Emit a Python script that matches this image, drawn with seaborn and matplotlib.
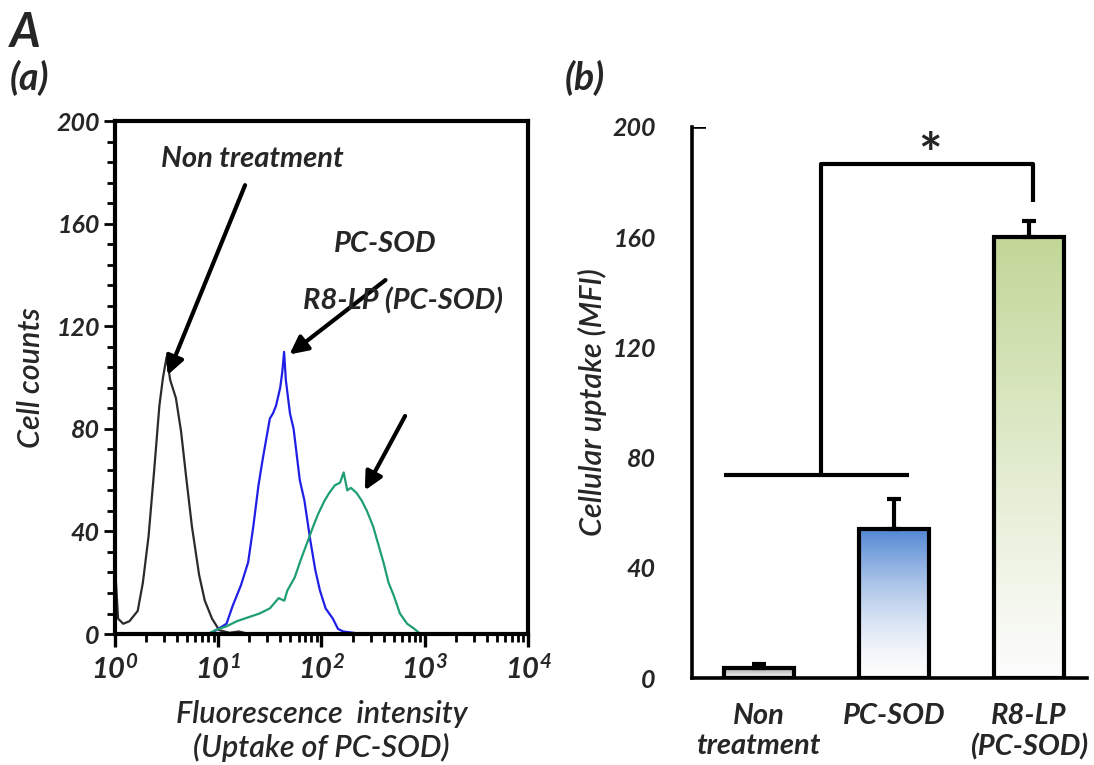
import numpy as np
import pandas as pd
import matplotlib
matplotlib.use("Agg")
import matplotlib.pyplot as plt
import seaborn as sns
from matplotlib.ticker import NullFormatter
from matplotlib.colors import to_rgb

# ---------------- data ----------------
# panel (a): flow-cytometry histograms, x = log10(fluorescence intensity)
non_log = [0.0, 0.01, 0.03, 0.08, 0.14, 0.18, 0.22, 0.27, 0.325, 0.38, 0.43, 0.465,
           0.50, 0.535, 0.59, 0.64, 0.69, 0.745, 0.815, 0.87, 0.94, 1.01, 1.11, 1.2, 1.3, 1.5]
non_count = [3, 20, 6, 4, 5, 7, 9, 20, 38, 64, 89, 100,
             108, 99, 92, 79, 61, 42, 23, 13, 6, 1.5, 0.5, 1, 0, 0]

pcsod_log = [0.0, 0.9, 0.96, 1.08, 1.14, 1.22, 1.29, 1.34, 1.39, 1.43, 1.50, 1.53, 1.56,
             1.60, 1.62, 1.638, 1.655, 1.695, 1.73, 1.79, 1.835, 1.89, 1.94, 1.985, 2.04,
             2.11, 2.16, 2.21, 2.4, 4.0]
pcsod_count = [0, 0, 1, 4, 11, 19, 28, 42, 58, 68, 84, 86, 89,
               96, 102, 110, 99, 86, 80, 60, 52, 37, 25, 17, 10,
               6, 2, 1, 0, 0]

r8_log = [0.0, 0.9, 0.97, 1.08, 1.18, 1.29, 1.40, 1.50, 1.585, 1.64, 1.67, 1.74, 1.80,
          1.865, 1.92, 1.97, 2.03, 2.075, 2.13, 2.18, 2.215, 2.25, 2.285, 2.34, 2.39, 2.44,
          2.50, 2.55, 2.60, 2.65, 2.70, 2.76, 2.83, 2.90, 2.95, 3.1, 4.0]
r8_count = [0, 0, 1.5, 3, 5, 6.5, 8, 10, 14, 13, 17, 22, 29,
            36, 42, 47, 52, 55, 58, 59, 63, 56, 57, 55, 52, 48,
            42, 35, 28, 20, 15, 8, 4, 2, 0.3, 0, 0]

x_ticks = [1, 10, 100, 1000, 10000]
x_tick_labels = ["$10^{0}$", "$10^{1}$", "$10^{2}$", "$10^{3}$", "$10^{4}$"]
y_ticks = [0, 40, 80, 120, 160, 200]
y_tick_labels = ["0", "40", "80", "120", "160", "200"]

# panel (b): mean fluorescence intensity
bar_categories = ["Non\ntreatment", "PC-SOD", "R8-LP\n(PC-SOD)"]
bar_values = [3.5, 54, 160]
bar_errors = [1.7, 11, 6]

# ---------------- style ----------------
sns.set_theme(style="ticks")
FONT = ["Lato", "DejaVu Sans"]
plt.rcParams["font.family"] = FONT
plt.rcParams["mathtext.fontset"] = "custom"
plt.rcParams["mathtext.rm"] = "Lato:italic:bold"
plt.rcParams["mathtext.it"] = "Lato:italic:bold"
plt.rcParams["mathtext.bf"] = "Lato:italic:bold"

fig = plt.figure(figsize=(10.94, 7.65), dpi=100)
ax2 = fig.add_axes([0.6325, 0.1137, 0.3611, 0.7203])
ax1 = fig.add_axes([0.1051, 0.1712, 0.3775, 0.6706])
ax1.set_zorder(5)
ax2.patch.set_visible(False)

tick_kw = dict(fontsize=18, fontweight="bold", fontstyle="italic")
label_kw = dict(fontsize=22, fontstyle="italic", fontweight="semibold")

# ---------------- panel (a) ----------------
curves = [(non_log, non_count, "#2b2b2b"),
          (pcsod_log, pcsod_count, "#1f1fe6"),
          (r8_log, r8_count, "#1f9e74")]
for lg, cnt, col in curves:
    df = pd.DataFrame({"x": 10 ** np.asarray(lg), "y": cnt})
    sns.lineplot(data=df, x="x", y="y", ax=ax1, color=col, lw=1.6,
                 sort=False, estimator=None)
ax1.set_xscale("log")
ax1.set_xlim(1, 1e4)
ax1.set_ylim(0, 200)
ax1.set_xticks(x_ticks)
ax1.set_xticklabels(x_tick_labels, fontsize=21)
x_minor = [m * 10 ** d for d in range(4) for m in range(2, 10)]
ax1.set_xticks(x_minor, minor=True)
ax1.xaxis.set_minor_formatter(NullFormatter())
ax1.set_yticks(y_ticks)
y_minor = [v for v in range(0, 201, 8) if v % 40]
ax1.set_yticks(y_minor, minor=True)
ax1.set_yticklabels(y_tick_labels, **tick_kw)
for s in ax1.spines.values():
    s.set_visible(True)
    s.set_linewidth(3)
    s.set_color("black")
    s.set_zorder(6)
ax1.set_xlabel("Fluorescence  intensity\n(Uptake of PC-SOD)", labelpad=12,
               linespacing=1.2, **label_kw)
ax1.set_ylabel("Cell counts", labelpad=8, **label_kw)
ax1.tick_params(axis="x", which="major", direction="out", length=9, width=2.4,
                bottom=True, top=False, pad=5, color="black")
ax1.tick_params(axis="x", which="minor", direction="out", length=6, width=2.0,
                bottom=True, top=False, color="black")
ax1.tick_params(axis="y", which="major", direction="out", length=8, width=2.0,
                left=True, right=False, pad=3, color="black")
ax1.tick_params(axis="y", which="minor", direction="out", length=5.5, width=2.0,
                left=True, right=False, color="black")

ann_kw = dict(fontsize=21, fontweight="bold", fontstyle="italic", ha="center",
              va="center")
arrow = dict(arrowstyle="-|>,head_length=0.9,head_width=0.45", lw=3,
             color="black", shrinkA=0, shrinkB=0)
ax1.text(10 ** 1.33, 185, "Non treatment", **ann_kw)
ax1.annotate("", xy=(10 ** 0.51, 101), xytext=(10 ** 1.26, 175), arrowprops=arrow)
ax1.text(10 ** 2.62, 152, "PC-SOD", **ann_kw)
ax1.annotate("", xy=(10 ** 1.69, 109), xytext=(10 ** 2.62, 138), arrowprops=arrow)
ax1.text(10 ** 2.79, 130, "R8-LP (PC-SOD)", **ann_kw)
ax1.annotate("", xy=(10 ** 2.42, 56), xytext=(10 ** 2.81, 85), arrowprops=arrow)

# ---------------- panel (b) ----------------
dfb = pd.DataFrame({"group": bar_categories, "value": bar_values})
sns.barplot(data=dfb, x="group", y="value", ax=ax2, width=0.52,
            fill=False, edgecolor="black", linewidth=3, errorbar=None)
ax2.errorbar(range(len(bar_values)), bar_values,
             yerr=[[0] * len(bar_errors), bar_errors], fmt="none",
             ecolor="black", elinewidth=3, capsize=5, capthick=3, zorder=1)

grad_cols = [("#a8a8a8", 1.0), ("#5287d4", 1.6), ("#c2d797", 1.1)]
for patch, (col, gam) in zip(ax2.patches, grad_cols):
    x0, y0 = patch.get_x(), patch.get_y()
    w, h = patch.get_width(), patch.get_height()
    t = np.linspace(0, 1, 256) ** gam
    c = np.array(to_rgb(col))
    img = (1 - t)[:, None] * np.array([1.0, 1.0, 1.0]) * 0.99 + t[:, None] * c
    img = img[:, None, :]
    im = ax2.imshow(img, extent=(x0, x0 + w, y0, y0 + h), origin="lower",
                    aspect="auto", zorder=0.5, interpolation="bilinear")
    im.set_clip_path(patch)
    patch.set_zorder(2)

ax2.set_xlim(-0.494, 2.43)
ax2.set_ylim(0, 200)
ax2.set_yticks(y_ticks)
ax2.set_yticklabels(y_tick_labels, **tick_kw)
ax2.tick_params(axis="y", length=0, pad=26)
ax2.tick_params(axis="x", length=0, pad=18)
ax2.set_xticks(range(len(bar_categories)))
ax2.set_xticklabels(bar_categories, fontsize=21, fontweight="bold",
                    fontstyle="italic", linespacing=1.2)
ax2.set_xlabel("")
ax2.set_ylabel("Cellular uptake (MFI)", labelpad=4, **label_kw)
for side in ["top", "right"]:
    ax2.spines[side].set_visible(False)
for side in ["left", "bottom"]:
    ax2.spines[side].set_linewidth(2.6)
    ax2.spines[side].set_color("black")
ax2.axhline(200, xmin=0, xmax=0.035, color="black", lw=2.6,
            solid_capstyle="butt")

# significance bracket
br_kw = dict(color="black", lw=3, solid_capstyle="butt", clip_on=False)
ax2.plot([-0.26, 1.11], [73.7, 73.7], **br_kw)
ax2.plot([0.46, 0.46, 2.03, 2.03], [73.7, 186.7, 186.7, 172.6], **br_kw)
ax2.text(1.27, 189, "*", fontsize=40, fontweight="bold", ha="center",
         va="center")

# panel letters
fig.text(0.009, 0.985, "A", fontsize=34, fontweight="bold", fontstyle="italic",
         ha="left", va="top")
fig.text(0.009, 0.922, "(a)", fontsize=27, fontweight="bold", fontstyle="italic",
         ha="left", va="top")
fig.text(0.516, 0.922, "(b)", fontsize=27, fontweight="bold", fontstyle="italic",
         ha="left", va="top")

fig.savefig("out.png", dpi=100, facecolor="white")
